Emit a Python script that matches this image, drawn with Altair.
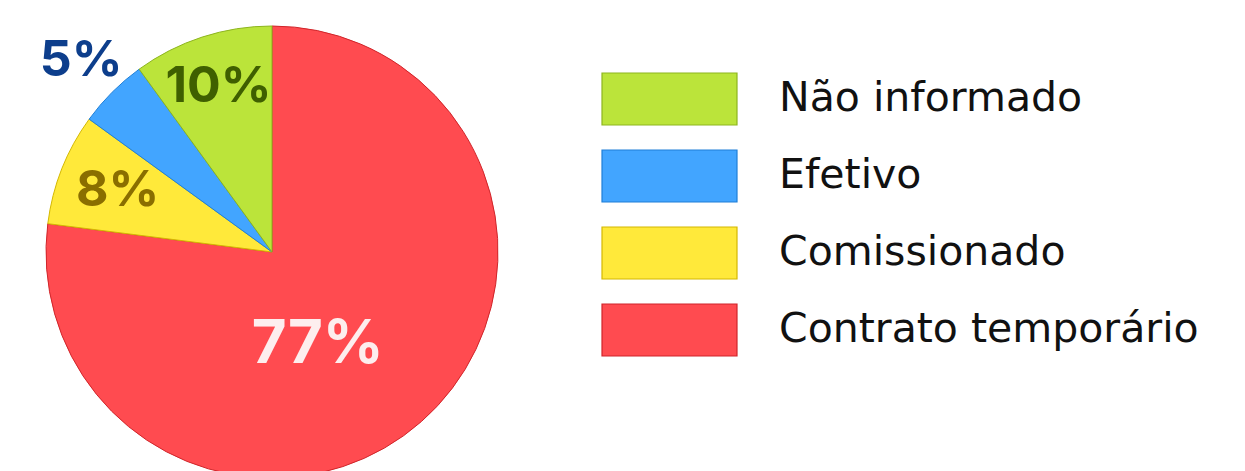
import altair as alt
import pandas as pd

# data (clockwise from 12 o'clock)
categories = ["Contrato temporário", "Comissionado", "Efetivo", "Não informado"]
values = [77, 8, 5, 10]
pct_labels = ["77%", "8%", "5%", "10%"]
label_colors = ["#FDEEEE", "#8A6E00", "#0D3E8C", "#3F5F00"]

legend_order = ["Não informado", "Efetivo", "Comissionado", "Contrato temporário"]
fill_colors = ["#BBE43A", "#42A5FF", "#FFE93A", "#FF4B50"]
stroke_colors = ["#8DB51E", "#1E7FD8", "#D4B800", "#D0252A"]

df = pd.DataFrame({
    "cat": categories,
    "value": values,
    "label": pct_labels,
    "tc": label_colors,
    "idx": list(range(len(categories))),
})

FONT = "Inter"
LFONT = "DejaVu Sans"
CX, CY, R = 264, 244, 226

leg = alt.Legend(
    title=None,
    orient="none",
    legendX=634.5,
    legendY=64,
    padding=0,
    symbolType="M-2.596,-1H2.596V1H-2.596Z",
    symbolSize=2704,
    symbolStrokeWidth=1.2,
    symbolOpacity=1,
    rowPadding=19,
    labelOffset=82.5,
    labelFontSize=41,
    labelFont=LFONT,
    labelColor="#111111",
    labelLimit=600,
)

base = alt.Chart(df)

pie = base.mark_arc(strokeWidth=1).encode(
    theta=alt.Theta("value:Q", stack=True, scale=alt.Scale(domain=[0, 100])),
    order=alt.Order("idx:Q"),
    fill=alt.Fill("cat:N", scale=alt.Scale(domain=legend_order, range=fill_colors), legend=leg, sort=legend_order),
    stroke=alt.Stroke("cat:N", scale=alt.Scale(domain=legend_order, range=stroke_colors), legend=leg, sort=legend_order),
    radius=alt.value(R),
    x=alt.value(CX),
    y=alt.value(CY),
)

txt_base = base.transform_window(
    cum="sum(value)", sort=[alt.SortField("idx")]
).transform_calculate(
    mid="datum.cum - datum.value / 2"
)

def label_layer(cat, radius, size, dx=0, dy=0):
    return txt_base.transform_filter(alt.datum.cat == cat).mark_text(
        font=FONT, fontWeight=700, fontSize=size, align="center", baseline="middle", dx=dx, dy=dy
    ).encode(
        theta=alt.Theta("mid:Q", scale=alt.Scale(domain=[0, 100])),
        radius=alt.value(radius),
        text="label:N",
        color=alt.Color("tc:N", scale=None),
        x=alt.value(CX),
        y=alt.value(CY),
    )

chart = alt.layer(
    pie,
    label_layer("Não informado", 173, 50),
    label_layer("Comissionado", 166, 50),
    label_layer("Efetivo", 270, 50),
    label_layer("Contrato temporário", 104, 60, dx=-23, dy=15),
).properties(
    width=1229, height=463, padding=0, autosize=alt.AutoSizeParams(type="none")
).configure_view(stroke=None)

chart.save("out.html", embed_options={"renderer": "svg", "actions": False})
